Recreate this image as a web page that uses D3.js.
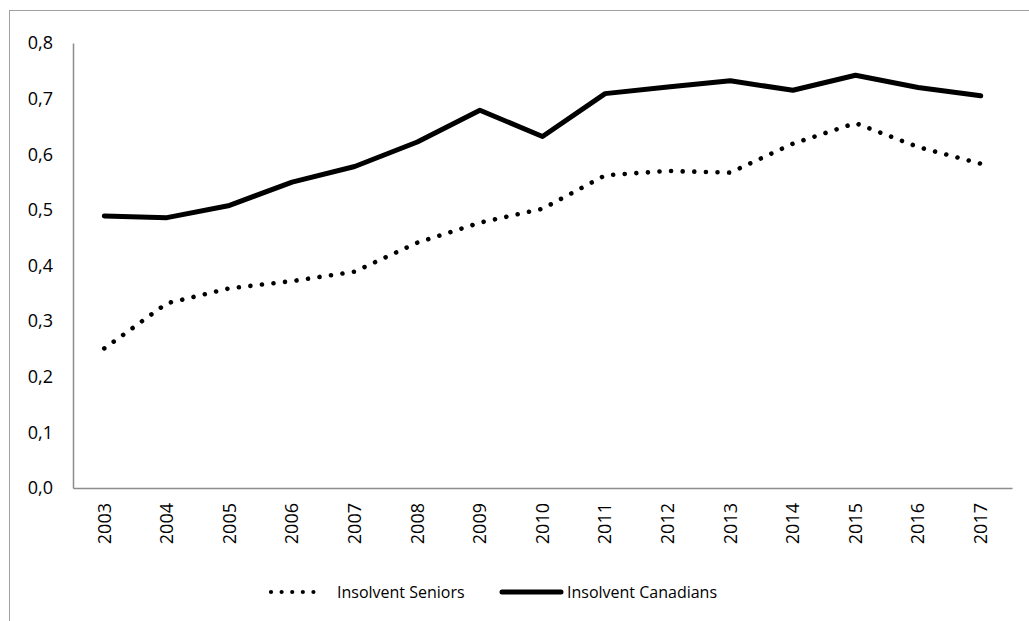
<!DOCTYPE html>
<html>
<head>
<meta charset="utf-8">
<script src="https://cdn.jsdelivr.net/npm/d3@7"></script>
<style>
  body { margin: 0; background: #fff; }
  svg { display: block; font-family: "Open Sans", sans-serif; }
</style>
</head>
<body>
<svg width="1029" height="621"></svg>
<script>
var years = ["2003", "2004", "2005", "2006", "2007", "2008", "2009", "2010",
             "2011", "2012", "2013", "2014", "2015", "2016", "2017"];
var seniors = [0.251, 0.332, 0.359, 0.372, 0.389, 0.441, 0.477, 0.502,
               0.562, 0.570, 0.567, 0.619, 0.656, 0.613, 0.583];
var canadians = [0.489, 0.486, 0.508, 0.550, 0.578, 0.622, 0.679, 0.632,
                 0.709, 0.721, 0.732, 0.715, 0.742, 0.720, 0.705];
var yTicks = [0, 0.1, 0.2, 0.3, 0.4, 0.5, 0.6, 0.7, 0.8];
var legendLabels = ["Insolvent Seniors", "Insolvent Canadians"];

var svg = d3.select("svg"),
    margin = {top: 43, right: 17, bottom: 133, left: 73},
    width = +svg.attr("width") - margin.left - margin.right,
    height = +svg.attr("height") - margin.top - margin.bottom;

// chart frame (only top and left edges are visible in the picture)
svg.append("rect")
    .attr("x", 9.5).attr("y", 10.5)
    .attr("width", 1040).attr("height", 640)
    .attr("fill", "none")
    .attr("stroke", "#a0a0a0")
    .attr("stroke-width", 1);

var g = svg.append("g").attr("transform", "translate(" + margin.left + "," + margin.top + ")");

var x = d3.scaleBand().domain(years).range([0, width]);
var y = d3.scaleLinear().domain([0, 0.8]).range([height, 0]);

var comma = function(d) { return d3.format(".1f")(d).replace(".", ","); };

var yAxis = g.append("g")
    .call(d3.axisLeft(y).tickValues(yTicks).tickFormat(comma).tickSize(0).tickPadding(20));
yAxis.select(".domain").attr("stroke", "#8c8c8c").attr("stroke-width", 1.5);
yAxis.selectAll("text").attr("font-size", 18).attr("fill", "#000")
    .attr("font-family", "Open Sans");

var xAxis = g.append("g")
    .attr("transform", "translate(0," + height + ")")
    .call(d3.axisBottom(x).tickSize(0).tickPadding(0));
xAxis.select(".domain").attr("stroke", "#8c8c8c").attr("stroke-width", 1.5);
xAxis.selectAll("text")
    .attr("font-size", 18).attr("fill", "#000").attr("font-family", "Open Sans")
    .attr("transform", "rotate(-90)")
    .attr("x", -15).attr("y", 0).attr("dy", "0.35em")
    .style("text-anchor", "end");

var line = function(values) {
    return d3.line()
        .x(function(d, i) { return x(years[i]) + x.bandwidth() / 2; })
        .y(function(d) { return y(d); })(values);
};

g.append("path")
    .attr("d", line(canadians))
    .attr("fill", "none")
    .attr("stroke", "#000")
    .attr("stroke-width", 5)
    .attr("stroke-linejoin", "round")
    .attr("stroke-linecap", "round");

g.append("path")
    .attr("d", line(seniors))
    .attr("fill", "none")
    .attr("stroke", "#000")
    .attr("stroke-width", 4.6)
    .attr("stroke-linecap", "round")
    .attr("stroke-dasharray", "0.01 11.6");

// legend
var legend = svg.append("g").attr("transform", "translate(0,592)");
legend.append("line")
    .attr("x1", 271).attr("x2", 324).attr("y1", 0).attr("y2", 0)
    .attr("stroke", "#000").attr("stroke-width", 4.2)
    .attr("stroke-linecap", "round")
    .attr("stroke-dasharray", "0.01 10.6");
legend.append("text")
    .attr("x", 337).attr("y", 0).attr("dy", "0.35em")
    .attr("font-size", 16).text(legendLabels[0]);
legend.append("line")
    .attr("x1", 502).attr("x2", 561).attr("y1", 0).attr("y2", 0)
    .attr("stroke", "#000").attr("stroke-width", 5)
    .attr("stroke-linecap", "round");
legend.append("text")
    .attr("x", 567).attr("y", 0).attr("dy", "0.35em")
    .attr("font-size", 16).text(legendLabels[1]);
</script>
</body>
</html>
